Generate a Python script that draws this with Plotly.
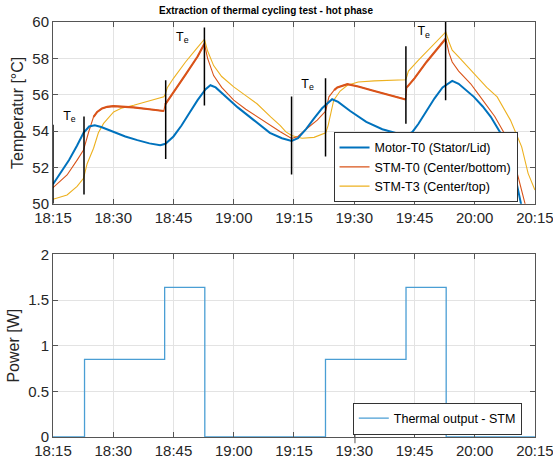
import pandas as pd
import plotly.graph_objects as go

# ---------------- data (minutes after 18:15) ----------------
motor_t0_min = [0, 2, 4, 6, 7.6, 9, 10.4, 12, 15, 18, 21, 24, 26.7, 28, 30, 32, 34, 36, 38, 39.2,
                40.5, 43, 46, 50, 54, 57, 59.4, 61, 63, 65, 67, 69.5, 71, 74, 78, 82, 86, 88.2,
                89.5, 91, 93, 95, 97, 99.4, 101, 104.8, 107, 109, 111.5, 113.5, 115, 116, 117]
motor_t0_val = [51.07, 51.7, 52.4, 53.2, 53.9, 54.25, 54.32, 54.22, 53.95, 53.7, 53.5, 53.32, 53.22,
                53.3, 53.7, 54.3, 55.0, 55.7, 56.3, 56.52, 56.4, 55.9, 55.3, 54.6, 53.9, 53.6,
                53.45, 53.6, 54.1, 54.7, 55.25, 55.75, 55.6, 55.1, 54.5, 54.1, 53.85, 53.77,
                53.95, 54.4, 55.1, 55.8, 56.4, 56.76, 56.6, 55.88, 55.35, 54.78, 53.87, 52.8,
                51.6, 50.5, 49.5]

stm_t0_min = [0, 2, 3.5, 6, 7.6, 8.9, 10.1, 11, 12.2, 13.5, 15, 20, 24, 27.6, 27.9, 30, 33, 36,
              37.7, 38.5, 39.2, 40, 42, 45, 48, 50.8, 54, 56.6, 59.4, 61, 63, 65.8, 67.9, 68.7,
              70, 70.8, 73.3, 76, 80, 84, 87.8, 88.1, 90, 93, 96, 97.8, 98.6, 99.4, 101, 104,
              106, 108.2, 110, 112.3, 113.5, 115.6, 117.3, 118]
stm_t0_val = [50.88, 51.25, 51.58, 52.4, 52.95, 53.96, 54.78, 55.05, 55.24, 55.33, 55.37, 55.3,
              55.2, 55.1, 55.45, 56.1, 57.1, 58.1, 58.8, 58.0, 57.5, 57.05, 56.4, 55.7, 55.2,
              54.78, 54.3, 53.96, 53.59, 53.7, 54.1, 54.6, 55.1, 55.88, 56.25, 56.4, 56.58,
              56.45, 56.2, 55.95, 55.74, 56.4, 56.9, 57.8, 58.6, 59.09, 58.3, 57.8, 57.3, 56.6,
              56.0, 55.33, 54.8, 53.9, 53.2, 51.67, 50.2, 49.6]

stm_t3_min = [0, 3.5, 6, 7.6, 8.5, 10.1, 11.3, 12.6, 15.1, 17, 20.1, 24, 27.6, 27.8, 28.5, 30,
              33, 36, 37.7, 38.5, 40, 42, 45, 48, 50.8, 54.2, 56.6, 58, 59.4, 62, 65, 67.9, 68.5,
              69.9, 71.5, 73.3, 76, 80, 85, 87.8, 88.1, 88.5, 91, 94, 97.8, 98.6, 99.4, 101,
              104, 106, 108, 110.6, 113.9, 116.7, 118.3, 120]
stm_t3_val = [50.24, 50.48, 50.95, 51.4, 52.2, 53.05, 53.9, 54.42, 55.05, 55.25, 55.42, 55.65,
              55.88, 55.95, 56.4, 56.9, 57.8, 58.6, 59.05, 58.4, 57.6, 57.0, 56.43, 55.95, 55.5,
              54.78, 54.3, 53.95, 53.75, 53.6, 53.65, 53.9, 54.3, 55.7, 56.2, 56.52, 56.7,
              56.76, 56.8, 56.82, 57.0, 57.3, 57.9, 58.6, 59.45, 58.9, 58.45, 58.08, 57.35,
              56.9, 56.4, 55.88, 54.6, 53.13, 51.67, 50.75]

# noisy stretches of STM-T0 (minutes)
stm_t0_noisy = [(9.5, 27.6), (27.9, 37.7), (69.5, 87.8), (88.1, 97.8)]

# T_e markers
marker_min = [0, 7.72, 28.06, 37.7, 59.4, 67.86, 87.87, 97.76]
marker_low = [50.0, 50.5, 52.46, 55.4, 51.6, 52.6, 54.4, 55.7]
marker_high = [54.35, 54.8, 56.8, 59.7, 55.9, 56.9, 58.66, 60.0]

te_label_min = [4.1, 32.2, 63.4, 92.3]
te_label_val = [54.8, 59.15, 56.55, 59.45]

power_min = [0, 7.85, 27.8, 37.8, 67.85, 87.9, 97.9, 120]
power_val = [0, 0.85, 1.64, 0, 0.85, 1.64, 0, 0]

tick_minutes = [0, 15, 30, 45, 60, 75, 90, 105, 120]

t0 = pd.Timestamp("2021-01-01 18:15")


def to_time(mins):
    return [t0 + pd.Timedelta(minutes=m) for m in mins]


BLUE = "#0072BD"
ORANGE = "#D95319"
YELLOW = "#EDB120"
FONT = "Liberation Sans, Arial, sans-serif"

fig = go.Figure()

fig.add_trace(go.Scatter(x=to_time(stm_t3_min), y=stm_t3_val, mode="lines", name="STM-T3 (Center/top)",
                         line=dict(color=YELLOW, width=1.1), legendrank=3, xaxis="x", yaxis="y"))
fig.add_trace(go.Scatter(x=to_time(stm_t0_min), y=stm_t0_val, mode="lines", name="STM-T0 (Center/bottom)",
                         line=dict(color=ORANGE, width=1.1), legendrank=2, legendgroup="t0",
                         xaxis="x", yaxis="y"))
# thicker overlay for noisy segments
for a, b in stm_t0_noisy:
    seg = [(m, v) for m, v in zip(stm_t0_min, stm_t0_val) if a <= m <= b]
    fig.add_trace(go.Scatter(x=to_time([s[0] for s in seg]), y=[s[1] for s in seg], mode="lines",
                             line=dict(color=ORANGE, width=2.1), showlegend=False, legendgroup="t0",
                             hoverinfo="skip", xaxis="x", yaxis="y"))
fig.add_trace(go.Scatter(x=to_time(motor_t0_min), y=motor_t0_val, mode="lines", name="Motor-T0 (Stator/Lid)",
                         line=dict(color=BLUE, width=2), legendrank=1, xaxis="x", yaxis="y"))

# vertical T_e markers
mx, my = [], []
for m, lo, hi in zip(marker_min, marker_low, marker_high):
    tt = t0 + pd.Timedelta(minutes=m)
    mx += [tt, tt, None]
    my += [lo, hi, None]
fig.add_trace(go.Scatter(x=mx, y=my, mode="lines", line=dict(color="black", width=1.5),
                         showlegend=False, hoverinfo="skip", xaxis="x", yaxis="y"))

fig.add_trace(go.Scatter(x=to_time(te_label_min), y=te_label_val, mode="text",
                         text=["T<sub>e</sub>"] * len(te_label_min),
                         textfont=dict(family=FONT, size=12.5, color="black"),
                         showlegend=False, hoverinfo="skip", xaxis="x", yaxis="y"))

fig.add_trace(go.Scatter(x=to_time(power_min), y=power_val, mode="lines", line_shape="hv",
                         name="Thermal output - STM", line=dict(color="#4A9ED4", width=1.3),
                         legend="legend2", xaxis="x2", yaxis="y2"))

axis_common = dict(
    showline=True, linecolor="#555555", linewidth=1, mirror="ticks",
    ticks="inside", ticklen=5, tickcolor="#555555",
    showgrid=True, gridcolor="#e3e3e3", gridwidth=1, zeroline=False,
    tickfont=dict(family=FONT, size=15, color="#262626"),
    automargin=False, ticklabeloverflow="allow",
)
xrange = [t0, t0 + pd.Timedelta(minutes=120, seconds=1)]
xticks = to_time(tick_minutes)
fig.update_layout(
    width=553, height=466,
    margin=dict(l=53, r=18, t=22, b=29),
    paper_bgcolor="white", plot_bgcolor="white",
    font=dict(family=FONT, color="#262626"),
    title=dict(text="<b>Extraction of thermal cycling test - hot phase</b>",
               font=dict(family=FONT, size=10, color="black"),
               x=0.481, xanchor="center", y=0.978, yanchor="middle"),
    xaxis=dict(domain=[0, 1], anchor="y", range=xrange, tickformat="%H:%M",
               tickvals=xticks, **axis_common),
    yaxis=dict(domain=[0.5622, 1], anchor="x", range=[50, 60], dtick=2,
               title=dict(text="Temperatur [°C]", font=dict(family=FONT, size=16, color="#262626"),
                          standoff=4), **axis_common),
    xaxis2=dict(domain=[0, 1], anchor="y2", range=xrange, tickformat="%H:%M",
                tickvals=xticks, **axis_common),
    yaxis2=dict(domain=[0, 0.4399], anchor="x2", range=[0, 2], dtick=0.5,
                title=dict(text="Power [W]", font=dict(family=FONT, size=16, color="#262626"),
                           standoff=4), **axis_common),
    legend=dict(x=0.582, y=0.735, xanchor="left", yanchor="top",
                bgcolor="white", bordercolor="#333333", borderwidth=1,
                font=dict(family=FONT, size=12.5, color="black"), tracegroupgap=0),
    legend2=dict(x=0.622, y=0.083, xanchor="left", yanchor="top",
                 bgcolor="white", bordercolor="#333333", borderwidth=1,
                 font=dict(family=FONT, size=12.5, color="black")),
    showlegend=True,
)

# small stray tick below the lower legend
fig.add_shape(type="line", xref="paper", yref="paper", x0=0.6265, x1=0.6265, y0=-0.015, y1=0.026,
              line=dict(color="#555555", width=1))

fig.write_html("out.html", config={"displayModeBar": False},
               post_script="document.body.style.margin='0';document.body.style.padding='0';")
